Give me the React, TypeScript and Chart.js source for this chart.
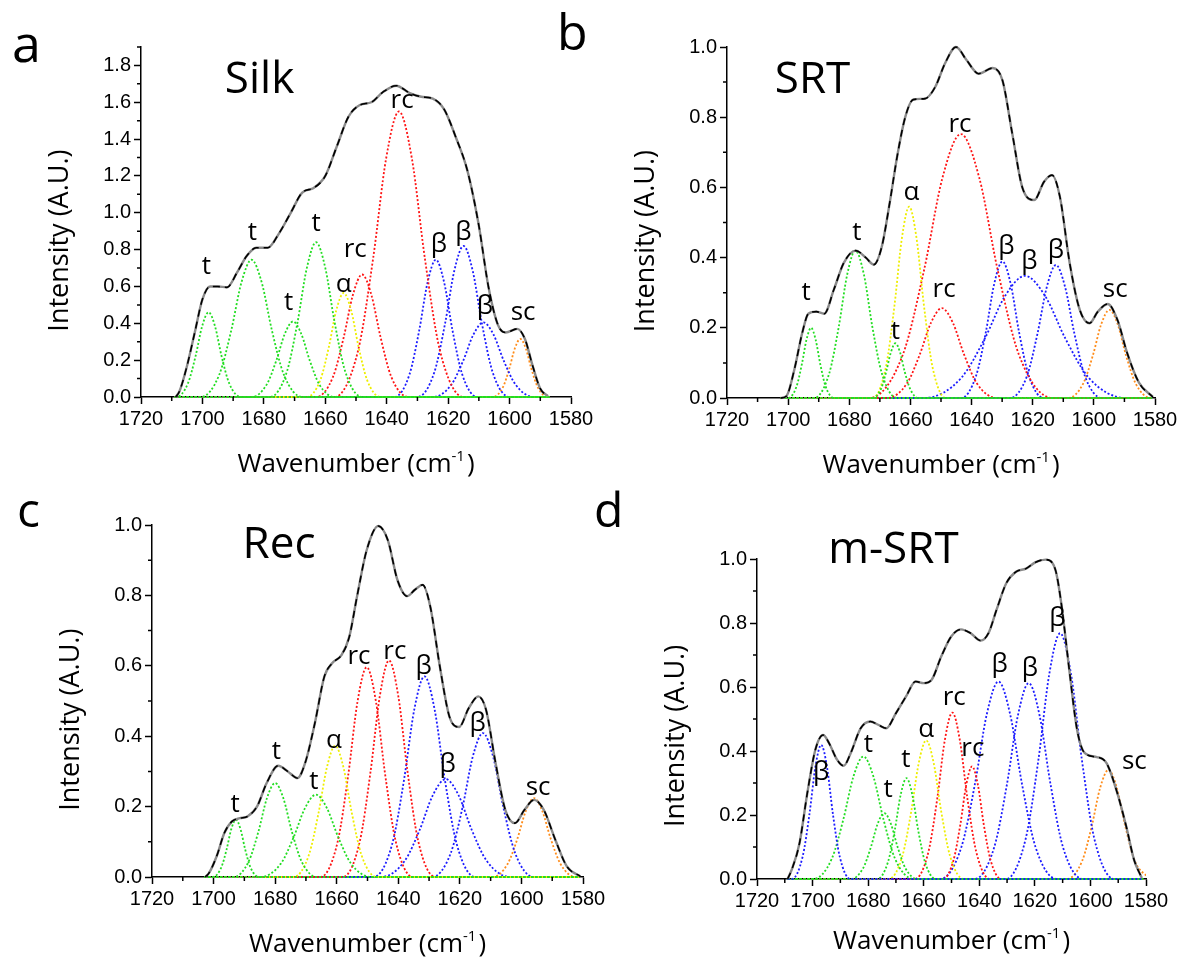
import React, { useEffect, useRef } from 'react';
import { Chart, registerables } from 'chart.js';
Chart.register(...registerables);

type Pt = [number, number];
type Lbl = [string, number, number];

// ---------------- shared axis data ----------------
const xTicks = [1580, 1600, 1620, 1640, 1660, 1680, 1700, 1720];
const xMinor = [1590, 1610, 1630, 1650, 1670, 1690, 1710];
const yTicksSilk = [0, 0.2, 0.4, 0.6, 0.8, 1.0, 1.2, 1.4, 1.6, 1.8];
const yMinorSilk = [0.1, 0.3, 0.5, 0.7, 0.9, 1.1, 1.3, 1.5, 1.7, 1.9];
const yTicksUnit = [0, 0.2, 0.4, 0.6, 0.8, 1.0];
const yMinorUnit = [0.1, 0.3, 0.5, 0.7, 0.9];

// ---------------- a: Silk ----------------
const silkEnvX = [1708.75, 1707.5, 1705, 1702.5, 1700, 1697.5, 1695, 1692, 1688.75, 1685.6, 1682.5, 1678.75, 1675, 1671.25, 1667.5, 1663.75, 1660, 1656.25, 1652.5, 1648.75, 1645, 1641.25, 1636.9, 1632.5, 1628.75, 1625, 1621.25, 1617.5, 1613.75, 1610, 1606.9, 1603.75, 1601.25, 1597.5, 1595, 1592.5, 1590, 1587.5];
const silkEnvY = [0, 0.03, 0.17, 0.35, 0.53, 0.6, 0.6, 0.595, 0.675, 0.765, 0.81, 0.81, 0.89, 1.0, 1.11, 1.135, 1.2, 1.36, 1.52, 1.585, 1.6, 1.655, 1.69, 1.65, 1.63, 1.62, 1.56, 1.41, 1.23, 0.93, 0.6, 0.39, 0.35, 0.37, 0.315, 0.17, 0.045, 0.005];
const silkPeaks: Pt[][] = [
  [[1687.5, 0], [1691.3, 0.075], [1693.8, 0.224], [1695.9, 0.384], [1698, 0.46], [1700.1, 0.384], [1702.2, 0.224], [1704.7, 0.075], [1708.5, 0]],
  [[1667.5, 0], [1673.5, 0.122], [1677.4, 0.363], [1680.7, 0.622], [1684, 0.745], [1687.3, 0.622], [1690.6, 0.363], [1694.5, 0.122], [1700.5, 0]],
  [[1657, 0], [1661.9, 0.067], [1665.1, 0.2], [1667.8, 0.342], [1670.5, 0.41], [1673.2, 0.342], [1675.9, 0.2], [1679.1, 0.067], [1684, 0]],
  [[1648, 0], [1653.5, 0.138], [1657, 0.409], [1660, 0.701], [1663, 0.84], [1666, 0.701], [1669, 0.409], [1672.5, 0.138], [1678, 0]],
  [[1642, 0], [1646.4, 0.093], [1649.2, 0.275], [1651.6, 0.472], [1654, 0.565], [1656.4, 0.472], [1658.8, 0.275], [1661.6, 0.093], [1666, 0]],
  [[1633, 0], [1638.5, 0.109], [1642, 0.324], [1645, 0.555], [1648, 0.665], [1651, 0.555], [1654, 0.324], [1657.5, 0.109], [1663, 0]],
  [[1615, 0], [1622.7, 0.254], [1627.6, 0.755], [1631.8, 1.294], [1636, 1.55], [1640.2, 1.294], [1644.4, 0.755], [1649.3, 0.254], [1657, 0]],
  [[1610.5, 0], [1615.4, 0.122], [1618.6, 0.363], [1621.3, 0.622], [1624, 0.745], [1626.7, 0.622], [1629.4, 0.363], [1632.6, 0.122], [1637.5, 0]],
  [[1600, 0], [1605.5, 0.134], [1609, 0.399], [1612, 0.685], [1615, 0.82], [1618, 0.685], [1621, 0.399], [1624.5, 0.134], [1630, 0]],
  [[1592, 0], [1598, 0.066], [1601.9, 0.197], [1605.2, 0.338], [1608.5, 0.405], [1611.8, 0.338], [1615.1, 0.197], [1619, 0.066], [1625, 0]],
  [[1587.5, 0], [1590.8, 0.052], [1592.9, 0.153], [1594.7, 0.263], [1596.5, 0.315], [1598.3, 0.263], [1600.1, 0.153], [1602.2, 0.052], [1605.5, 0]],
];
const silkKinds = ['t', 't', 't', 't', 'α', 'rc', 'rc', 'β', 'β', 'β', 'sc'];
const silkRange: [number, number] = [1587, 1709];
const silkLabels: Lbl[] = [['t', 1698.75, 0.71], ['t', 1683.75, 0.89], ['t', 1671.9, 0.51], ['t', 1663, 0.94], ['α', 1654, 0.61], ['rc', 1650.25, 0.8], ['rc', 1635, 1.61], ['β', 1623, 0.83], ['β', 1615, 0.89], ['β', 1608, 0.49], ['sc', 1595.6, 0.46]];

// ---------------- b: SRT ----------------
const srtEnvX = [1702.5, 1700.6, 1698, 1695.4, 1693.4, 1690.8, 1688.2, 1685, 1681.8, 1677.9, 1674.6, 1672, 1669.4, 1666.8, 1664.3, 1661.7, 1659.1, 1655.2, 1651.9, 1648.7, 1645.1, 1641.6, 1637.7, 1633.1, 1629.9, 1626.7, 1623.4, 1619.5, 1616.3, 1613.7, 1611.1, 1607.9, 1604.6, 1601.4, 1598.7, 1595.5, 1592.3, 1589.1, 1585.2, 1580.7];
const srtEnvY = [0, 0.005, 0.08, 0.185, 0.24, 0.246, 0.24, 0.31, 0.385, 0.42, 0.4, 0.38, 0.43, 0.555, 0.69, 0.8, 0.85, 0.853, 0.886, 0.953, 1.0, 0.962, 0.924, 0.94, 0.905, 0.754, 0.6, 0.564, 0.616, 0.635, 0.573, 0.384, 0.251, 0.213, 0.246, 0.268, 0.223, 0.128, 0.043, 0.003];
const srtPeaks: Pt[][] = [
  [[1685, 0], [1687.75, 0.033], [1689.5, 0.097], [1691, 0.166], [1692.5, 0.2], [1694, 0.166], [1695.5, 0.097], [1697.25, 0.033], [1700, 0]],
  [[1664.4, 0], [1669.3, 0.069], [1672.5, 0.205], [1675.2, 0.351], [1678, 0.42], [1680.7, 0.351], [1683.4, 0.205], [1686.6, 0.069], [1691.5, 0]],
  [[1657.4, 0], [1660.1, 0.026], [1661.9, 0.076], [1663.4, 0.13], [1664.9, 0.156], [1666.4, 0.13], [1667.9, 0.076], [1669.6, 0.026], [1672.4, 0]],
  [[1648.4, 0], [1652.8, 0.089], [1655.6, 0.265], [1658, 0.455], [1660.4, 0.545], [1662.8, 0.455], [1665.2, 0.265], [1668, 0.089], [1672.4, 0]],
  [[1631.7, 0], [1638.3, 0.042], [1642.5, 0.125], [1646.1, 0.214], [1649.7, 0.256], [1653.3, 0.214], [1656.9, 0.125], [1661.1, 0.042], [1667.7, 0]],
  [[1613.5, 0], [1624.5, 0.123], [1631.5, 0.366], [1637.5, 0.628], [1643.5, 0.752], [1649.5, 0.628], [1655.5, 0.366], [1662.5, 0.123], [1673.5, 0]],
  [[1616.4, 0], [1621.3, 0.064], [1624.5, 0.189], [1627.2, 0.325], [1629.9, 0.389], [1632.6, 0.325], [1635.3, 0.189], [1638.5, 0.064], [1643.4, 0]],
  [[1589.5, 0], [1601.6, 0.057], [1609.3, 0.169], [1615.9, 0.29], [1622.5, 0.348], [1629.1, 0.29], [1635.7, 0.169], [1643.4, 0.057], [1655.5, 0]],
  [[1597.4, 0], [1602.9, 0.062], [1606.4, 0.185], [1609.4, 0.316], [1612.4, 0.379], [1615.4, 0.316], [1618.4, 0.185], [1621.9, 0.062], [1627.4, 0]],
  [[1581.4, 0], [1586.3, 0.041], [1589.5, 0.122], [1592.2, 0.21], [1594.9, 0.251], [1597.6, 0.21], [1600.3, 0.122], [1603.5, 0.041], [1608.4, 0]],
];
const srtKinds = ['t', 't', 't', 'α', 'rc', 'rc', 'β', 'β', 'β', 'sc'];
const srtRange: [number, number] = [1581, 1702.5];
const srtLabels: Lbl[] = [['t', 1694.1, 0.3], ['t', 1677.5, 0.47], ['t', 1664.9, 0.19], ['α', 1659.7, 0.585], ['rc', 1649, 0.31], ['rc', 1643.8, 0.78], ['β', 1628.6, 0.43], ['β', 1621.1, 0.39], ['β', 1612.4, 0.42], ['sc', 1593, 0.31]];

// ---------------- c: Rec ----------------
const recEnvX = [1702.75, 1701.5, 1699, 1696.5, 1694, 1691.5, 1689, 1685.9, 1682.75, 1679, 1675.9, 1672.75, 1670.25, 1667.1, 1664, 1661.5, 1658.4, 1655.9, 1653.4, 1650.25, 1646.5, 1643.4, 1640.25, 1637.1, 1634.6, 1632.1, 1629.6, 1626.5, 1623.4, 1620.25, 1617.1, 1614, 1611.5, 1608.4, 1605.25, 1602.1, 1599, 1595.9, 1592.75, 1589, 1585.25, 1580.9];
const recEnvY = [0, 0.011, 0.059, 0.125, 0.158, 0.167, 0.172, 0.2, 0.267, 0.316, 0.3, 0.281, 0.324, 0.437, 0.57, 0.607, 0.631, 0.683, 0.797, 0.929, 0.997, 0.957, 0.843, 0.798, 0.816, 0.83, 0.768, 0.598, 0.456, 0.426, 0.48, 0.513, 0.475, 0.324, 0.191, 0.153, 0.191, 0.219, 0.191, 0.106, 0.03, 0.002];
const recPeaks: Pt[][] = [
  [[1685.25, 0], [1688, 0.027], [1689.75, 0.079], [1691.25, 0.136], [1692.75, 0.163], [1694.25, 0.136], [1695.75, 0.079], [1697.5, 0.027], [1700.25, 0]],
  [[1666.5, 0], [1671.4, 0.044], [1674.6, 0.13], [1677.3, 0.223], [1680, 0.267], [1682.7, 0.223], [1685.4, 0.13], [1688.6, 0.044], [1693.5, 0]],
  [[1648.75, 0], [1655.35, 0.038], [1659.55, 0.114], [1663.15, 0.195], [1666.75, 0.234], [1670.35, 0.195], [1673.95, 0.114], [1678.15, 0.038], [1684.75, 0]],
  [[1647, 0], [1651.9, 0.061], [1655.1, 0.182], [1657.8, 0.311], [1660.5, 0.373], [1663.2, 0.311], [1665.9, 0.182], [1669.1, 0.061], [1674, 0]],
  [[1635.25, 0], [1640.75, 0.098], [1644.25, 0.29], [1647.25, 0.498], [1650.25, 0.596], [1653.25, 0.498], [1656.25, 0.29], [1659.75, 0.098], [1665.25, 0]],
  [[1628, 0], [1633.5, 0.101], [1637, 0.3], [1640, 0.514], [1643, 0.615], [1646, 0.514], [1649, 0.3], [1652.5, 0.101], [1658, 0]],
  [[1615, 0], [1621, 0.093], [1624.9, 0.278], [1628.2, 0.476], [1631.5, 0.57], [1634.8, 0.476], [1638.1, 0.278], [1642, 0.093], [1648, 0]],
  [[1603.6, 0], [1611.3, 0.046], [1616.2, 0.135], [1620.4, 0.232], [1624.6, 0.278], [1628.8, 0.232], [1633, 0.135], [1637.9, 0.046], [1645.6, 0]],
  [[1596, 0], [1602, 0.067], [1605.9, 0.199], [1609.2, 0.342], [1612.5, 0.409], [1615.8, 0.342], [1619.1, 0.199], [1623, 0.067], [1629, 0]],
  [[1582.4, 0], [1587.3, 0.037], [1590.5, 0.109], [1593.2, 0.187], [1595.9, 0.224], [1598.6, 0.187], [1601.3, 0.109], [1604.5, 0.037], [1609.4, 0]],
];
const recKinds = ['t', 't', 't', 'α', 'rc', 'rc', 'β', 'β', 'β', 'sc'];
const recRange: [number, number] = [1581, 1703];
const recLabels: Lbl[] = [['t', 1693, 0.205], ['t', 1679.6, 0.357], ['t', 1667.4, 0.27], ['α', 1660.9, 0.388], ['rc', 1652.75, 0.626], ['rc', 1641.1, 0.64], ['β', 1631.75, 0.598], ['β', 1624, 0.319], ['β', 1614.25, 0.437], ['sc', 1594.6, 0.253]];

// ---------------- d: m-SRT ----------------
const msrtEnvX = [1709, 1707.5, 1704.7, 1701.9, 1699, 1696.2, 1694.1, 1691.2, 1688.8, 1686.3, 1682.7, 1679.2, 1676.4, 1673.5, 1670, 1666.4, 1662.9, 1660, 1657.2, 1653.7, 1650.1, 1646.6, 1643.1, 1639.5, 1636.7, 1633.8, 1630.3, 1626.8, 1623.2, 1619.7, 1616.1, 1612.6, 1610.5, 1607.6, 1604.8, 1602, 1597.7, 1594.2, 1590.7, 1587.1, 1584.3, 1581.5];
const msrtEnvY = [0, 0.029, 0.112, 0.268, 0.404, 0.45, 0.425, 0.373, 0.354, 0.393, 0.471, 0.492, 0.482, 0.471, 0.518, 0.57, 0.617, 0.612, 0.622, 0.695, 0.758, 0.78, 0.768, 0.745, 0.768, 0.841, 0.924, 0.96, 0.97, 0.99, 0.998, 0.966, 0.862, 0.653, 0.466, 0.393, 0.381, 0.362, 0.279, 0.164, 0.06, 0.003];
const msrtPeaks: Pt[][] = [
  [[1686.4, 0], [1690.2, 0.069], [1692.7, 0.204], [1694.8, 0.35], [1696.9, 0.419], [1699, 0.35], [1701.1, 0.204], [1703.6, 0.069], [1707.4, 0]],
  [[1663.7, 0], [1670.3, 0.063], [1674.5, 0.187], [1678.1, 0.32], [1681.7, 0.383], [1685.3, 0.32], [1688.9, 0.187], [1693.1, 0.063], [1699.7, 0]],
  [[1662.2, 0], [1666.6, 0.034], [1669.4, 0.1], [1671.8, 0.172], [1674.2, 0.206], [1676.6, 0.172], [1679, 0.1], [1681.8, 0.034], [1686.2, 0]],
  [[1655.7, 0], [1659.5, 0.052], [1662, 0.153], [1664.1, 0.263], [1666.2, 0.315], [1668.3, 0.263], [1670.4, 0.153], [1672.9, 0.052], [1676.7, 0]],
  [[1645.6, 0], [1650.5, 0.071], [1653.7, 0.211], [1656.4, 0.362], [1659.1, 0.433], [1661.8, 0.362], [1664.5, 0.211], [1667.7, 0.071], [1672.6, 0]],
  [[1636.2, 0], [1641.1, 0.085], [1644.3, 0.253], [1647, 0.434], [1649.7, 0.52], [1652.4, 0.434], [1655.1, 0.253], [1658.3, 0.085], [1663.2, 0]],
  [[1632.1, 0], [1635.9, 0.058], [1638.4, 0.171], [1640.5, 0.294], [1642.6, 0.352], [1644.7, 0.294], [1646.8, 0.171], [1649.3, 0.058], [1653.1, 0]],
  [[1612.1, 0], [1619.8, 0.101], [1624.7, 0.3], [1628.9, 0.515], [1633.1, 0.617], [1637.3, 0.515], [1641.5, 0.3], [1646.4, 0.101], [1654.1, 0]],
  [[1602.7, 0], [1609.9, 0.1], [1614.4, 0.298], [1618.3, 0.511], [1622.2, 0.612], [1626.1, 0.511], [1630, 0.298], [1634.6, 0.1], [1641.7, 0]],
  [[1591.4, 0], [1598.6, 0.126], [1603.1, 0.374], [1607, 0.641], [1610.9, 0.768], [1614.8, 0.641], [1618.7, 0.374], [1623.3, 0.126], [1630.4, 0]],
  [[1578.5, 0], [1584, 0.056], [1587.5, 0.166], [1590.5, 0.285], [1593.5, 0.341], [1596.5, 0.285], [1599.5, 0.166], [1603, 0.056], [1608.5, 0]],
];
const msrtKinds = ['β', 't', 't', 't', 'α', 'rc', 'rc', 'β', 'β', 'β', 'sc'];
const msrtRange: [number, number] = [1581, 1709];
const msrtLabels: Lbl[] = [['β', 1696.9, 0.331], ['t', 1679.9, 0.42], ['t', 1672.8, 0.279], ['t', 1666.4, 0.373], ['α', 1659.1, 0.468], ['rc', 1649, 0.567], ['rc', 1642.3, 0.409], ['β', 1632.7, 0.669], ['β', 1621.8, 0.656], ['β', 1611.9, 0.815], ['sc', 1584.2, 0.367]];

// ---------------- styles ----------------
const kindColor: Record<string, string> = {
  t: '#22dd22',
  'α': '#eeee00',
  rc: '#ff1414',
  'β': '#1c1cff',
  sc: '#ff8c1a',
};
const SANS = '"Open Sans", "Noto Sans", sans-serif';
const TICK_FONT = '"Liberation Sans", Arial, sans-serif';
const W = 1181;
const H = 960;

interface Panel {
  key: string;
  letter: string;
  letterPos: [number, number, number];
  title: string;
  titleAt: [number, number];
  envX: number[];
  envY: number[];
  peaks: Pt[][];
  kinds: string[];
  range: [number, number];
  labels: Lbl[];
  yMax: number;
  yTicks: number[];
  yMinor: number[];
  area: { l: number; t: number; r: number; b: number };
  xTitleGap: number;
}

const panels: Panel[] = [
  { key: 'a', letter: 'a', letterPos: [12, 62, 52], title: 'Silk', titleAt: [1681.4, 1.72], envX: silkEnvX, envY: silkEnvY, peaks: silkPeaks, kinds: silkKinds, range: silkRange, labels: silkLabels, yMax: 1.9, yTicks: yTicksSilk, yMinor: yMinorSilk, area: { l: 141, t: 47, r: 571, b: 397 }, xTitleGap: 75 },
  { key: 'b', letter: 'b', letterPos: [557, 50, 50], title: 'SRT', titleAt: [1692, 0.905], envX: srtEnvX, envY: srtEnvY, peaks: srtPeaks, kinds: srtKinds, range: srtRange, labels: srtLabels, yMax: 1.0, yTicks: yTicksUnit, yMinor: yMinorUnit, area: { l: 727, t: 47, r: 1155, b: 398 }, xTitleGap: 75 },
  { key: 'c', letter: 'c', letterPos: [17, 527, 48], title: 'Rec', titleAt: [1678.75, 0.943], envX: recEnvX, envY: recEnvY, peaks: recPeaks, kinds: recKinds, range: recRange, labels: recLabels, yMax: 1.0, yTicks: yTicksUnit, yMinor: yMinorUnit, area: { l: 152, t: 525, r: 583, b: 877 }, xTitleGap: 75 },
  { key: 'd', letter: 'd', letterPos: [594, 527, 48], title: 'm-SRT', titleAt: [1670.9, 1.028], envX: msrtEnvX, envY: msrtEnvY, peaks: msrtPeaks, kinds: msrtKinds, range: msrtRange, labels: msrtLabels, yMax: 1.0, yTicks: yTicksUnit, yMinor: yMinorUnit, area: { l: 757, t: 559, r: 1146, b: 879 }, xTitleGap: 70 },
];

function peakPoints(pk: Pt[], range: [number, number]) {
  const pts = pk.map(([x, y]) => ({ x, y }));
  if (range[0] < pts[0].x) pts.unshift({ x: range[0], y: 0 });
  if (range[1] > pts[pts.length - 1].x) pts.push({ x: range[1], y: 0 });
  return pts.sort((a, b) => b.x - a.x);
}

function annotations(p: Panel) {
  return {
    id: 'annot_' + p.key,
    afterDraw(chart: any) {
      const ctx: CanvasRenderingContext2D = chart.ctx;
      const xs = chart.scales.x;
      const ys = chart.scales.y;
      const a = chart.chartArea;
      ctx.save();
      // minor ticks
      ctx.strokeStyle = '#000';
      ctx.lineWidth = 1.5;
      ctx.beginPath();
      xMinor.forEach((v) => {
        const px = xs.getPixelForValue(v);
        ctx.moveTo(px, a.bottom);
        ctx.lineTo(px, a.bottom + 4);
      });
      p.yMinor.forEach((v) => {
        const py = ys.getPixelForValue(v);
        ctx.moveTo(a.left, py);
        ctx.lineTo(a.left - 4, py);
      });
      ctx.stroke();

      ctx.fillStyle = '#000';
      // peak labels
      ctx.textAlign = 'center';
      ctx.textBaseline = 'middle';
      ctx.font = `26px ${SANS}`;
      p.labels.forEach(([t, x, y]) => {
        ctx.fillText(t, xs.getPixelForValue(x), ys.getPixelForValue(y));
      });
      // sample title
      ctx.font = `44px ${SANS}`;
      ctx.fillText(p.title, xs.getPixelForValue(p.titleAt[0]), ys.getPixelForValue(p.titleAt[1]));

      // y axis title
      ctx.save();
      ctx.translate(a.left - 81, ys.getPixelForValue(0.447 * p.yMax));
      ctx.rotate(-Math.PI / 2);
      ctx.font = `27px ${SANS}`;
      ctx.fillText('Intensity (A.U.)', 0, 0);
      ctx.restore();

      // x axis title with superscript
      const big = `26px ${SANS}`;
      const small = `15px ${SANS}`;
      ctx.textAlign = 'left';
      ctx.textBaseline = 'alphabetic';
      ctx.font = big;
      const s1 = 'Wavenumber (cm';
      const w1 = ctx.measureText(s1).width;
      const w3 = ctx.measureText(')').width;
      ctx.font = small;
      const w2 = ctx.measureText('-1').width;
      const total = w1 + w2 + w3 + 2;
      let cx = (a.left + a.right) / 2 - total / 2;
      const base = a.bottom + p.xTitleGap;
      ctx.font = big;
      ctx.fillText(s1, cx, base);
      cx += w1;
      ctx.font = small;
      ctx.fillText('-1', cx, base - 11);
      cx += w2 + 2;
      ctx.font = big;
      ctx.fillText(')', cx, base);

      // panel letter
      ctx.font = `${p.letterPos[2]}px ${SANS}`;
      ctx.fillText(p.letter, p.letterPos[0], p.letterPos[1]);
      ctx.restore();
    },
  };
}

function buildConfig(p: Panel): any {
  const datasets: any[] = [];
  const env = p.envX.map((x, i) => ({ x, y: p.envY[i] }));
  datasets.push({
    data: env,
    borderColor: '#000',
    borderWidth: 1.6,
    borderDash: [7, 5],
    pointRadius: 0,
    cubicInterpolationMode: 'monotone',
    fill: false,
    clip: { left: 0, right: 0, top: false, bottom: 4 },
  });
  datasets.push({
    data: env,
    borderColor: '#8a8a8a',
    borderWidth: 2.4,
    pointRadius: 0,
    cubicInterpolationMode: 'monotone',
    fill: false,
    clip: { left: 0, right: 0, top: false, bottom: 4 },
  });
  p.peaks.forEach((pk, i) => {
    datasets.push({
      data: peakPoints(pk, p.range),
      borderColor: kindColor[p.kinds[i]],
      borderWidth: 1.8,
      borderDash: [2, 2],
      pointRadius: 0,
      cubicInterpolationMode: 'monotone',
      fill: false,
      clip: { left: 0, right: 0, top: false, bottom: 4 },
    });
  });

  const axisCommon = {
    grid: {
      display: true,
      drawOnChartArea: false,
      drawTicks: true,
      tickLength: 7,
      tickColor: '#000',
      tickWidth: 1.5,
    },
    border: { display: true, color: '#000', width: 1.5 },
  };

  return {
    type: 'line',
    data: { datasets },
    options: {
      responsive: false,
      animation: false,
      events: [],
      layout: {
        autoPadding: false,
        padding: { left: p.area.l - 60, right: W - p.area.r, top: p.area.t, bottom: H - p.area.b - 40 },
      },
      plugins: { legend: { display: false }, tooltip: { enabled: false } },
      scales: {
        x: {
          type: 'linear',
          reverse: true,
          min: 1580,
          max: 1720,
          ...axisCommon,
          afterBuildTicks: (s: any) => {
            s.ticks = xTicks.map((v) => ({ value: v }));
          },
          afterFit: (s: any) => {
            s.height = 40;
          },
          ticks: {
            color: '#000',
            font: { family: TICK_FONT, size: 20 },
            padding: 3,
            maxRotation: 0,
            autoSkip: false,
            callback: (v: any) => String(v),
          },
        },
        y: {
          type: 'linear',
          min: 0,
          max: p.yMax,
          ...axisCommon,
          afterBuildTicks: (s: any) => {
            s.ticks = p.yTicks.map((v) => ({ value: v }));
          },
          afterFit: (s: any) => {
            s.width = 60;
          },
          ticks: {
            color: '#000',
            font: { family: TICK_FONT, size: 20 },
            padding: 3,
            autoSkip: false,
            callback: (v: any) => Number(v).toFixed(1),
          },
        },
      },
    },
    plugins: [annotations(p)],
  };
}

function PanelCanvas({ p }: { p: Panel }) {
  const ref = useRef<HTMLCanvasElement | null>(null);
  useEffect(() => {
    let chart: Chart | null = null;
    let alive = true;
    const make = () => {
      if (!alive || !ref.current) return;
      chart = new Chart(ref.current, buildConfig(p));
    };
    const fonts: any = (document as any).fonts;
    if (fonts && fonts.load) {
      Promise.all([
        fonts.load(`26px "Open Sans"`),
        fonts.load(`20px "Liberation Sans"`),
      ]).then(make, make);
    } else {
      make();
    }
    return () => {
      alive = false;
      if (chart) chart.destroy();
    };
  }, [p]);
  return (
    <canvas
      ref={ref}
      width={W}
      height={H}
      style={{ position: 'absolute', left: 0, top: 0, width: W, height: H }}
    />
  );
}

export default function App() {
  return (
    <div style={{ position: 'absolute', left: 0, top: 0, width: W, height: H, background: '#fff', overflow: 'hidden' }}>
      {panels.map((p) => (
        <PanelCanvas key={p.key} p={p} />
      ))}
    </div>
  );
}
